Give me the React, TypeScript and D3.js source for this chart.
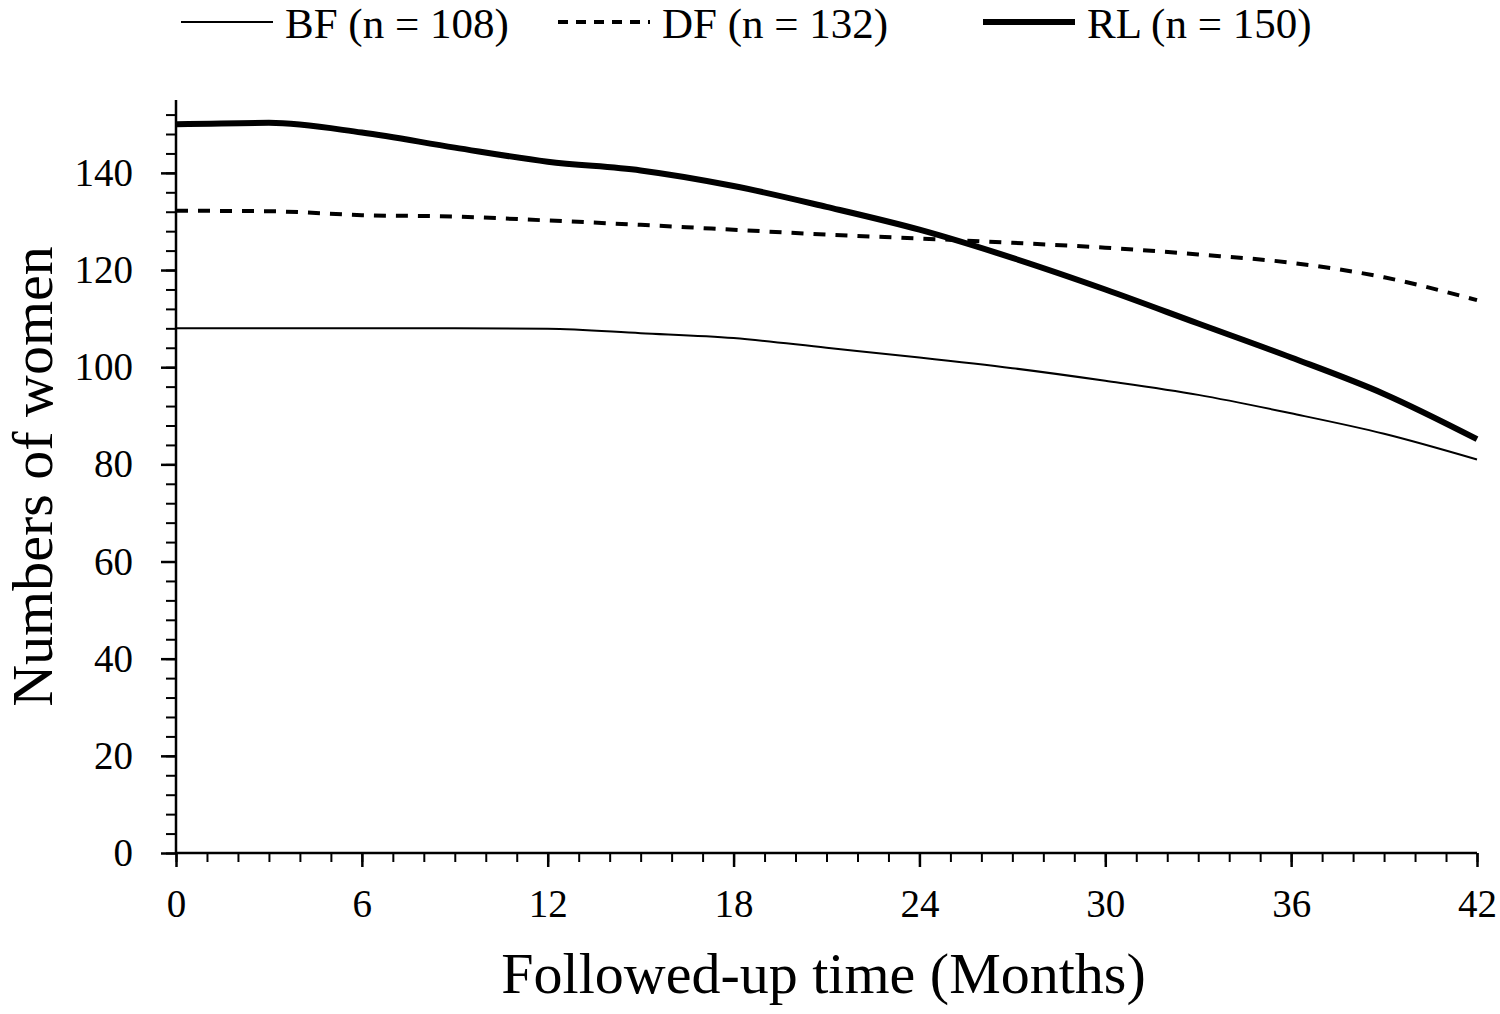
import { useEffect, useRef } from "react";
import * as d3 from "d3";

const months = [0, 3, 6, 9, 12, 15, 18, 21, 24, 27, 30, 33, 36, 39, 42];

const bfValues = [108, 108, 108, 108, 107.9, 107, 106, 104, 102, 99.8, 97.2, 94.3, 90.5, 86.3, 81];
const dfValues = [132.2, 132.1, 131.3, 131, 130.2, 129.3, 128.3, 127.3, 126.5, 125.6, 124.6, 123.2, 121.5, 118.5, 113.8];
const rlValues = [150, 150.3, 148.3, 145.2, 142.3, 140.5, 137.3, 133, 128.3, 122.5, 116, 109, 102, 94.5, 85.2];

const seriesNames = ["BF (n = 108)", "DF (n = 132)", "RL (n = 150)"];

const xMajorTicks = [0, 6, 12, 18, 24, 30, 36, 42];
const yMajorTicks = [0, 20, 40, 60, 80, 100, 120, 140];

const FONT = "'Liberation Serif', 'Times New Roman', serif";

export default function App() {
  const svgRef = useRef<SVGSVGElement>(null);

  const dims = {
    width: 1500,
    height: 1014,
    left: 176,
    right: 1477,
    top: 100,
    bottom: 853,
  };

  useEffect(() => {
    const svg = d3.select(svgRef.current);
    svg.selectAll("*").remove();

    svg
      .append("rect")
      .attr("width", dims.width)
      .attr("height", dims.height)
      .attr("fill", "white");

    const x = d3.scaleLinear().domain([0, 42]).range([dims.left, dims.right]);
    const y = d3.scaleLinear().domain([0, 155]).range([dims.bottom, dims.top]);

    const styles = [
      { width: 2, dash: null, legendDash: null },
      { width: 4, dash: "12,10", legendDash: "10,8" },
      { width: 6, dash: null, legendDash: null },
    ];
    const allValues = [bfValues, dfValues, rlValues];

    const line = d3
      .line<number>()
      .x((_, i) => x(months[i]))
      .y((d) => y(d))
      .curve(d3.curveMonotoneX);

    allValues.forEach((vals, i) => {
      svg
        .append("path")
        .datum(vals)
        .attr("d", line)
        .attr("fill", "none")
        .attr("stroke", "black")
        .attr("stroke-width", styles[i].width)
        .attr("stroke-dasharray", styles[i].dash);
    });

    // minor ticks
    const yMinor = d3.range(0, 153, 4);
    const xMinor = d3.range(0, 43, 1);

    svg
      .append("g")
      .attr("transform", `translate(${dims.left},0)`)
      .call(d3.axisLeft(y).tickValues(yMinor).tickSize(10).tickFormat(() => ""))
      .call((g) => g.select(".domain").remove())
      .call((g) => g.selectAll("line").attr("stroke-width", 2));

    svg
      .append("g")
      .attr("transform", `translate(0,${dims.bottom})`)
      .call(d3.axisBottom(x).tickValues(xMinor).tickSize(9).tickFormat(() => ""))
      .call((g) => g.select(".domain").remove())
      .call((g) => g.selectAll("line").attr("stroke-width", 2));

    // major ticks with labels
    const yAxisGroup = svg
      .append("g")
      .attr("transform", `translate(${dims.left},0)`)
      .call(d3.axisLeft(y).tickValues(yMajorTicks).tickSize(15).tickPadding(28).tickSizeOuter(0));
    yAxisGroup.select(".domain").remove();
    yAxisGroup.selectAll("line").attr("stroke-width", 2.5);
    yAxisGroup
      .selectAll("text")
      .attr("font-family", FONT)
      .attr("font-size", 39)
      .attr("fill", "black");

    const xAxisGroup = svg
      .append("g")
      .attr("transform", `translate(0,${dims.bottom})`)
      .call(d3.axisBottom(x).tickValues(xMajorTicks).tickSize(14).tickPadding(22).tickSizeOuter(0));
    xAxisGroup.select(".domain").remove();
    xAxisGroup.selectAll("line").attr("stroke-width", 2.5);
    xAxisGroup
      .selectAll("text")
      .attr("font-family", FONT)
      .attr("font-size", 39)
      .attr("fill", "black");

    // axis lines
    svg
      .append("line")
      .attr("x1", dims.left)
      .attr("x2", dims.left)
      .attr("y1", dims.top)
      .attr("y2", dims.bottom)
      .attr("stroke", "black")
      .attr("stroke-width", 2.5);
    svg
      .append("line")
      .attr("x1", dims.left)
      .attr("x2", dims.right)
      .attr("y1", dims.bottom)
      .attr("y2", dims.bottom)
      .attr("stroke", "black")
      .attr("stroke-width", 2.5);

    // axis titles
    svg
      .append("text")
      .attr("x", (dims.left + dims.right) / 2 - 3)
      .attr("y", 993)
      .attr("text-anchor", "middle")
      .attr("font-family", FONT)
      .attr("font-size", 58)
      .text("Followed-up time (Months)");

    svg
      .append("text")
      .attr("transform", `translate(52,${(dims.top + dims.bottom) / 2}) rotate(-90)`)
      .attr("text-anchor", "middle")
      .attr("font-family", FONT)
      .attr("font-size", 58)
      .text("Numbers of women");

    // legend
    const legendX = [181, 558, 983];
    const legend = svg.append("g");
    seriesNames.forEach((name, i) => {
      legend
        .append("line")
        .attr("x1", legendX[i])
        .attr("x2", legendX[i] + 92)
        .attr("y1", 22)
        .attr("y2", 22)
        .attr("stroke", "black")
        .attr("stroke-width", styles[i].width)
        .attr("stroke-dasharray", styles[i].legendDash);
      legend
        .append("text")
        .attr("x", legendX[i] + 104)
        .attr("y", 38)
        .attr("font-family", FONT)
        .attr("font-size", 43)
        .text(name);
    });
  }, []);

  return (
    <svg
      ref={svgRef}
      width={dims.width}
      height={dims.height}
      style={{ position: "absolute", left: 0, top: 0 }}
    ></svg>
  );
}
